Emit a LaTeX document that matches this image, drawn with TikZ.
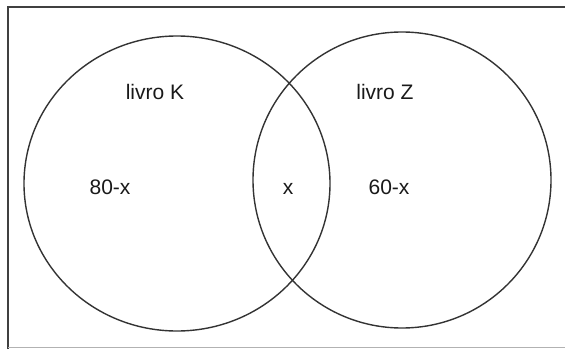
\documentclass[tikz,border=0pt]{standalone}
\usepackage{fontspec}
\setmainfont{Liberation Sans}
\begin{document}
\begin{tikzpicture}[x=1pt,y=1pt,
  setline/.style={draw=black!80,line width=1.4pt},
  lbl/.style={inner sep=0pt,font=\fontsize{21}{25}\selectfont,text=black!90}]
\useasboundingbox (0,0) rectangle (565,349);
% frame
\draw[black!75,line width=2pt] (8,0) -- (8,342) -- (565,342);
\draw[black!30,line width=1pt] (8,2) -- (565,2);
% sets
\draw[setline] (177,165.5) ellipse [x radius=153,y radius=147.5];
\draw[setline] (402,169) ellipse [x radius=149,y radius=148];
% labels
\node[lbl] (k) at (155,257) {livro K};
\node[lbl] (z) at (385,257) {livro Z};
\node[lbl] (a) at (110,162) {80-x};
\node[lbl] (b) at (288,160) {x};
\node[lbl] (c) at (389,162) {60-x};
\end{tikzpicture}
\end{document}
